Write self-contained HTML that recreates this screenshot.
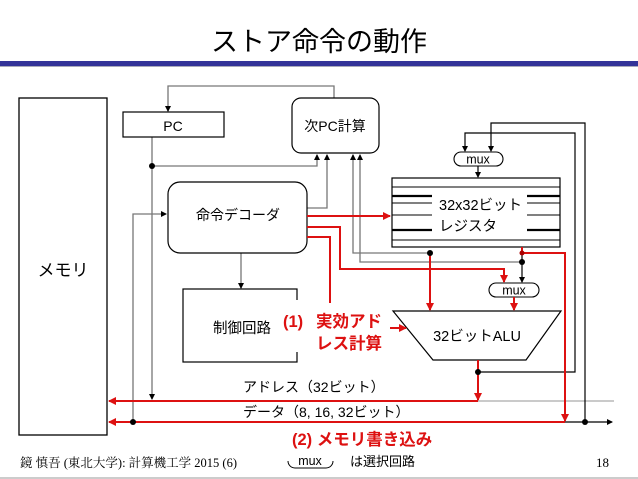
<!DOCTYPE html>
<html><head><meta charset="utf-8"><style>
html,body{margin:0;padding:0;background:#fff;}
svg{display:block;font-family:"Liberation Sans","Noto Sans CJK JP",sans-serif;}
</style></head><body>
<svg width="638" height="479" viewBox="0 0 638 479" xmlns="http://www.w3.org/2000/svg">
<defs>
<marker id="ab" markerWidth="6" markerHeight="6" refX="5" refY="3" orient="auto" markerUnits="userSpaceOnUse"><path d="M0,0 L6,3 L0,6z" fill="#000"/></marker>
<marker id="ar" markerWidth="8" markerHeight="8" refX="7" refY="4" orient="auto" markerUnits="userSpaceOnUse"><path d="M0,0 L8,4 L0,8z" fill="#d11"/></marker>
</defs>
<text x="319" y="51" font-size="27" text-anchor="middle" fill="#000">ストア命令の動作</text>
<rect x="0" y="61" width="638" height="5" fill="#333399"/>
<rect x="0" y="66" width="638" height="1" fill="#aab"/>

<g fill="none" stroke="#777" stroke-width="1.3">
<path d="M334,98 V86 H168 V111" marker-end="url(#ab)"/>
<path d="M152,137 V399" marker-end="url(#ab)"/>
<path d="M152,166 H317 V155" marker-end="url(#ab)"/>
<path d="M307,208 H327 V155" marker-end="url(#ab)"/>
<path d="M430,253 H353 V155" marker-end="url(#ab)"/>
<path d="M522,262 H360 V155" marker-end="url(#ab)"/>
<path d="M133,422 V214 H166" marker-end="url(#ab)"/>
<path d="M241,253 V288" marker-end="url(#ab)"/>
<path d="M478,401 H614" stroke="#aaa"/>
</g>
<g fill="none" stroke="#000" stroke-width="1.2">
<path d="M585,422 V123 H491 V151" marker-end="url(#ab)"/>
<path d="M478,372 H575 V133 H465 V151" marker-end="url(#ab)"/>
<path d="M478,166 V177" marker-end="url(#ab)"/>
<path d="M522,247 V282" marker-end="url(#ab)"/>
<path d="M565,422 H612" marker-end="url(#ab)"/>
</g>

<rect x="19" y="98" width="88" height="337" fill="#fff" stroke="#000" stroke-width="1.3"/>
<text x="63" y="276" font-size="17" text-anchor="middle">メモリ</text>
<rect x="123" y="112" width="101" height="25" fill="#fff" stroke="#000" stroke-width="1.2"/>
<text x="173" y="131" font-size="14" text-anchor="middle">PC</text>
<rect x="292" y="98" width="87" height="55" rx="9" fill="#fff" stroke="#000" stroke-width="1.2"/>
<text x="335" y="131" font-size="14" text-anchor="middle">次PC計算</text>
<rect x="168" y="182" width="139" height="71" rx="12" fill="#fff" stroke="#000" stroke-width="1.2"/>
<text x="238" y="220" font-size="14" text-anchor="middle">命令デコーダ</text>
<rect x="183" y="289" width="114" height="73" fill="#fff" stroke="#000" stroke-width="1.2"/>
<rect x="290" y="300" width="12" height="52" fill="#fff"/>
<text x="213" y="333" font-size="14.5">制御回路</text>

<rect x="392" y="178" width="168" height="69" fill="#fff" stroke="#000" stroke-width="1.2"/>
<g stroke="#000" stroke-width="1">
<line x1="392" y1="187" x2="560" y2="187"/>
<line x1="392" y1="203" x2="432" y2="203"/><line x1="527" y1="203" x2="560" y2="203"/>
<line x1="392" y1="215" x2="432" y2="215"/><line x1="527" y1="215" x2="560" y2="215"/>
<line x1="392" y1="240" x2="560" y2="240"/>
</g>
<g stroke="#000" stroke-width="2.2">
<line x1="392" y1="196" x2="432" y2="196"/><line x1="527" y1="196" x2="560" y2="196"/>
<line x1="392" y1="230" x2="432" y2="230"/><line x1="527" y1="230" x2="560" y2="230"/>
</g>
<text x="439" y="210" font-size="14.5">32x32ビット</text>
<text x="439" y="231" font-size="14.5">レジスタ</text>

<rect x="454" y="152" width="49" height="14" rx="7" fill="#fff" stroke="#000" stroke-width="1.1"/>
<text x="478" y="163.5" font-size="12.5" text-anchor="middle">mux</text>
<rect x="489" y="283" width="50" height="14" rx="7" fill="#fff" stroke="#000" stroke-width="1.1"/>
<text x="514" y="294.5" font-size="12.5" text-anchor="middle">mux</text>

<path d="M393,311 H561 L526,360 H433 Z" fill="#fff" stroke="#000" stroke-width="1.2"/>
<text x="477" y="341" font-size="14.5" text-anchor="middle">32ビットALU</text>

<g fill="none" stroke="#d11" stroke-width="2">
<path d="M307,216 H390" marker-end="url(#ar)"/>
<path d="M307,227 H340 V269 H504 V282" marker-end="url(#ar)"/>
<path d="M307,237 H330 V303"/>
<path d="M430,253 V310" marker-end="url(#ar)"/>
<path d="M514,297 V310" marker-end="url(#ar)"/>
<path d="M522,247 V253 H565 V421" marker-end="url(#ar)"/>
<path d="M390,328 H406" marker-end="url(#ar)"/>
<path d="M478,360 V400" marker-end="url(#ar)"/>
<path d="M478,401 H109" marker-end="url(#ar)"/>
<path d="M565,422 H109" marker-end="url(#ar)"/>
</g>

<g fill="#000">
<circle cx="152" cy="166" r="3"/><circle cx="430" cy="253" r="3"/>
<circle cx="522" cy="253" r="2.5" fill="#a00"/><circle cx="522" cy="262" r="3"/>
<circle cx="478" cy="372" r="3"/><circle cx="133" cy="422" r="3"/>
<circle cx="585" cy="422" r="3"/>
</g>

<text x="243" y="392" font-size="14">アドレス（32ビット）</text>
<text x="243" y="417" font-size="14">データ（8, 16, 32ビット）</text>

<g fill="#d11" font-weight="bold" font-size="16.5">
<text x="283" y="327">(1)</text>
<text x="316" y="327">実効アド</text>
<text x="316" y="349">レス計算</text>
<text x="292" y="445">(2) メモリ書き込み</text>
</g>

<text x="20" y="467" font-size="12.5" font-family="Liberation Serif,Noto Serif CJK SC,serif">鏡 慎吾 (東北大学): 計算機工学 2015 (6)</text>
<rect x="288" y="454" width="45" height="14" rx="7" fill="#fff" stroke="#000" stroke-width="1"/>
<rect x="286" y="452" width="49" height="9" fill="#fff"/>
<text x="310" y="465" font-size="12.5" text-anchor="middle">mux</text>
<text x="350" y="466" font-size="13">は選択回路</text>
<text x="596" y="467" font-size="13" font-family="Liberation Serif,serif">18</text>
<rect x="0" y="477" width="638" height="2" fill="#ccc"/>
</svg>
</body></html>
